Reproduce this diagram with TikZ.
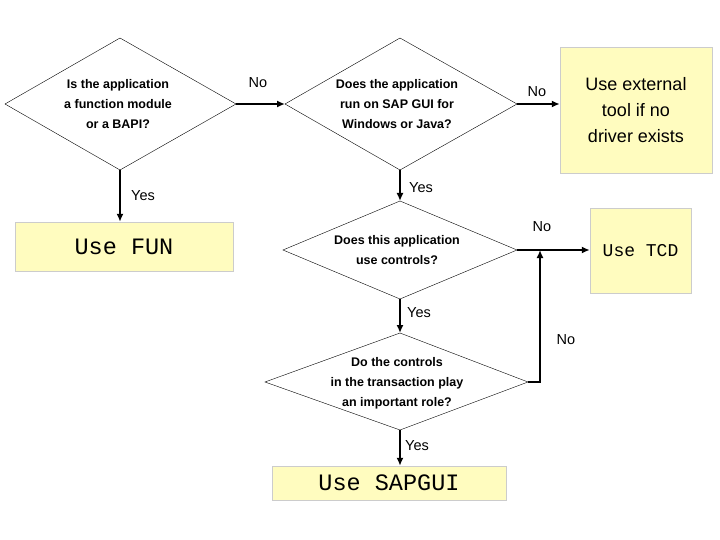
\documentclass[tikz,border=0pt]{standalone}
\usepackage{fontspec}
\setmainfont{Liberation Sans}
\setmonofont{Liberation Mono}
\usetikzlibrary{arrows.meta}
\begin{document}
\begin{tikzpicture}[x=1pt,y=-1pt,
  q/.style={font=\bfseries\fontsize{12.5}{20}\selectfont,align=center},
  lab/.style={font=\fontsize{14.5}{16}\selectfont},
  box/.style={draw=black!20,fill=yellow!25},
  arr/.style={line width=2pt,-{Latex[length=8pt,width=7pt]}}]
\useasboundingbox (0,0) rectangle (720,540);
% diamonds
\draw (5,104) coordinate (d1l) -- (120,38) -- (236,104) coordinate (d1r) -- (120,170) coordinate (d1b) -- cycle;
\node[q] (t1) at (118,104) {Is the application\\a function module\\or a BAPI?};
\draw (285,104) coordinate (d2l) -- (400,38) -- (517,104) coordinate (d2r) -- (400,170) coordinate (d2b) -- cycle;
\node[q] (t2) at (397,104) {Does the application\\run on SAP GUI for\\ Windows or Java?};
\draw (283,250) -- (400,201) coordinate (d3t) -- (517,250) coordinate (d3r) -- (400,299) coordinate (d3b) -- cycle;
\node[q] (t3) at (397,250) {Does this application\\use controls?};
\draw (265,382) -- (400,333) coordinate (d4t) -- (528,382) coordinate (d4r) -- (400,430) coordinate (d4b) -- cycle;
\node[q] (t4) at (397,383) {Do the controls\\in the transaction play\\an important role?};
% boxes
\node[box,minimum width=152,minimum height=126,align=center,font=\fontsize{18}{26}\selectfont] (ext) at (636,110) {Use external\\tool if no\\driver exists};
\node[box,minimum width=218,minimum height=49,font=\ttfamily\fontsize{23.5}{24}\selectfont] (fun) at (124,246.5) {Use FUN};
\node[box,minimum width=101,minimum height=85,font=\ttfamily\fontsize{18}{18}\selectfont] (tcd) at (640.5,250.5) {Use TCD};
\node[box,minimum width=234,minimum height=34,font=\ttfamily\fontsize{23.5}{24}\selectfont] (sap) at (389,483) {Use SAPGUI};
% arrows
\draw[arr] (d1r) -- (d2l);
\node[lab] (n1) at (258,83) {No};
\draw[arr] (d2r) -- (ext.west|-d2r);
\node[lab] (n2) at (537,92) {No};
\draw[arr] (d1b) -- (fun.north-|d1b);
\node[lab] (y1) at (143,196) {Yes};
\draw[arr] (d2b) -- (d3t);
\node[lab] (y2) at (421,188) {Yes};
\draw[arr] (d3r) -- (tcd.west|-d3r);
\node[lab] (n3) at (542,227) {No};
\draw[arr] (d3b) -- (d4t);
\node[lab] (y3) at (419,313) {Yes};
\coordinate (c1) at (540,382);
\draw[arr] (d4r) -- (c1) -- (540,250);
\node[lab] (n4) at (566,340) {No};
\draw[arr] (d4b) -- (sap.north-|d4b);
\node[lab] (y4) at (417,446) {Yes};
\end{tikzpicture}
\end{document}
